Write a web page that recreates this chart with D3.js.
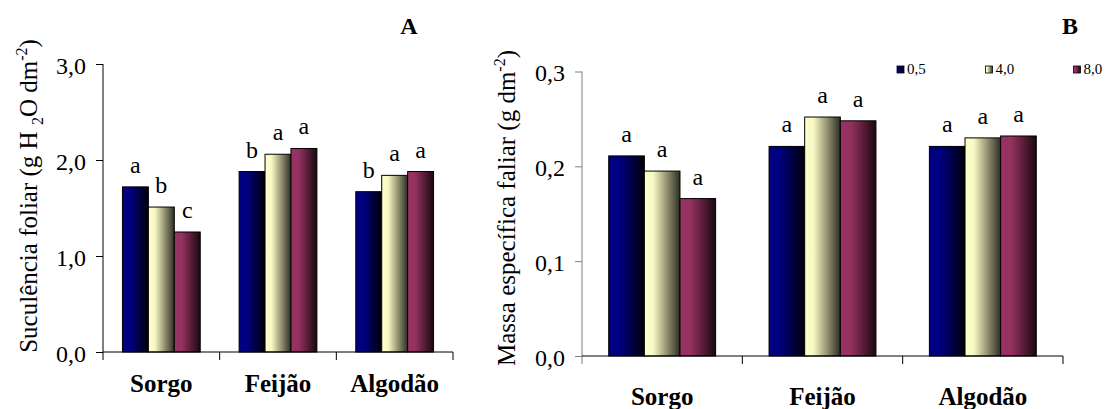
<!DOCTYPE html>
<html>
<head>
<meta charset="utf-8">
<script src="https://cdn.jsdelivr.net/npm/d3@7"></script>
<style>
  html, body { margin: 0; padding: 0; background: #fff; }
</style>
</head>
<body>
<svg id="chart" width="1110" height="409" font-family="'Liberation Serif', 'Times New Roman', serif"></svg>
<script>
// ---------- data ----------
const categories = ["Sorgo", "Feijão", "Algodão"];
const doses = ["0,5", "4,0", "8,0"];

// Panel A: Suculência foliar (g H2O dm-2)
const sucA_05 = [1.72, 1.88, 1.67];
const sucA_40 = [1.51, 2.06, 1.84];
const sucA_80 = [1.25, 2.12, 1.88];
const letA_05 = ["a", "b", "b"];
const letA_40 = ["b", "a", "a"];
const letA_80 = ["c", "a", "a"];
const ticksA = [0, 1, 2, 3];
const tickLabelsA = ["0,0", "1,0", "2,0", "3,0"];

// Panel B: Massa específica foliar (g dm-2)
const mefB_05 = [0.211, 0.221, 0.221];
const mefB_40 = [0.195, 0.252, 0.230];
const mefB_80 = [0.166, 0.248, 0.232];
const letB_05 = ["a", "a", "a"];
const letB_40 = ["a", "a", "a"];
const letB_80 = ["a", "a", "a"];
const ticksB = [0, 0.1, 0.2, 0.3];
const tickLabelsB = ["0,0", "0,1", "0,2", "0,3"];

// ---------- drawing ----------
const FONT = '"Liberation Serif", "Times New Roman", serif';
const svg = d3.select("#chart");
const defs = svg.append("defs");
const grads = [
  { id: "gBlue",   stops: [[0, "#000080"], [0.3, "#000080"], [1, "#000008"]] },
  { id: "gYellow", stops: [[0, "#ffffcc"], [0.25, "#f8f8c4"], [1, "#2e2e24"]] },
  { id: "gRed",    stops: [[0, "#993366"], [0.3, "#93315f"], [1, "#1a0810"]] }
];
grads.forEach(g => {
  const lg = defs.append("linearGradient").attr("id", g.id)
    .attr("x1", "0%").attr("x2", "100%").attr("y1", "0%").attr("y2", "0%");
  g.stops.forEach(s => lg.append("stop").attr("offset", s[0]).attr("stop-color", s[1]));
});
const fills = ["url(#gBlue)", "url(#gYellow)", "url(#gRed)"];

function txt(sel) { return sel.style("font-family", FONT).attr("fill", "#000"); }

function panel(opt) {
  const g = svg.append("g");
  const x = d3.scaleBand().domain(categories).range([opt.x0, opt.x1]).padding(0);
  const bw = x.bandwidth();
  const xi = d3.scaleBand().domain(doses).range([bw / 6, bw * 5 / 6]).padding(0);
  const y = d3.scaleLinear().domain(opt.domain).range([opt.yBase, opt.yTop]);

  // bars
  opt.series.forEach((vals, si) => {
    categories.forEach((c, ci) => {
      const bx = x(c) + xi(doses[si]);
      g.append("rect")
        .attr("x", bx).attr("y", y(vals[ci]))
        .attr("width", xi.bandwidth()).attr("height", y(0) - y(vals[ci]))
        .attr("fill", fills[si]).attr("stroke", "#000").attr("stroke-width", 1);
      txt(g.append("text"))
        .attr("x", bx + xi.bandwidth() / 2).attr("y", y(vals[ci]) - 14)
        .attr("text-anchor", "middle").style("font-size", "24px")
        .text(opt.letters[si][ci]);
    });
  });

  // y axis
  const yAxis = d3.axisLeft(y).tickValues(opt.ticks)
    .tickFormat((d, i) => opt.tickLabels[i]).tickSize(7).tickPadding(10);
  const ya = g.append("g").attr("transform", `translate(${opt.x0},0)`).call(yAxis);
  ya.attr("font-family", null).attr("font-size", null);
  ya.select(".domain").remove();
  ya.selectAll(".tick line").attr("stroke", opt.yColor);
  txt(ya.selectAll(".tick text")).style("font-size", "24px").attr("dy", "0.38em");
  g.append("line").attr("x1", opt.x0).attr("x2", opt.x0)
    .attr("y1", opt.yTop).attr("y2", opt.yBase + 8).attr("stroke", opt.yColor);

  // x axis
  g.append("line").attr("x1", opt.x0).attr("x2", opt.x1)
    .attr("y1", opt.yBase).attr("y2", opt.yBase).attr("stroke", "#000");
  categories.forEach(c => {
    const xe = x(c) + bw;
    g.append("line").attr("x1", xe).attr("x2", xe)
      .attr("y1", opt.yBase).attr("y2", opt.yBase + 8).attr("stroke", "#000");
    txt(g.append("text")).attr("x", x(c) + bw / 2).attr("y", opt.catY)
      .attr("text-anchor", "middle").style("font-size", "25px").style("font-weight", "bold")
      .text(c);
  });

  // y title
  const t = txt(g.append("text"))
    .attr("transform", `translate(${opt.titleX},${opt.titleY}) rotate(-90)`)
    .attr("text-anchor", "middle").style("font-size", "25px");
  opt.yTitle.forEach(p => {
    const s = t.append("tspan").text(p.t);
    if (p.sub) s.style("font-size", "16px").attr("dy", 6);
    if (p.sup) s.style("font-size", "16px").attr("dy", -10);
    if (p.back) s.attr("dy", p.back);
  });

  // panel letter
  txt(g.append("text")).attr("x", opt.letterX).attr("y", 34)
    .attr("text-anchor", "middle").style("font-size", "24px").style("font-weight", "bold")
    .text(opt.panelLetter);
}

panel({
  x0: 103, x1: 453, yBase: 352, yTop: 64, domain: [0, 3],
  series: [sucA_05, sucA_40, sucA_80], letters: [letA_05, letA_40, letA_80],
  ticks: ticksA, tickLabels: tickLabelsA, yColor: "#000", catY: 392,
  titleX: 37, titleY: 196,
  yTitle: [{ t: "Suculência foliar (g H " }, { t: "2", sub: true }, { t: "O dm", back: -6 },
           { t: "-2", sup: true }, { t: ")", back: 10 }],
  letterX: 409, panelLetter: "A"
});

panel({
  x0: 582, x1: 1063, yBase: 356, yTop: 71.5, domain: [0, 0.3],
  series: [mefB_05, mefB_40, mefB_80], letters: [letB_05, letB_40, letB_80],
  ticks: ticksB, tickLabels: tickLabelsB, yColor: "#808080", catY: 405,
  titleX: 515, titleY: 208,
  yTitle: [{ t: "Massa específica faliar (g dm" }, { t: "-2", sup: true }, { t: ")", back: 10 }],
  letterX: 1070, panelLetter: "B"
});

// legend
const legX = [897, 985.5, 1073.5];
const lg = svg.append("g");
doses.forEach((d, i) => {
  lg.append("rect").attr("x", legX[i]).attr("y", 66).attr("width", 7).attr("height", 7)
    .attr("fill", fills[i]).attr("stroke", "#000").attr("stroke-width", 0.8);
  txt(lg.append("text")).attr("x", legX[i] + 10).attr("y", 74).style("font-size", "15px").text(d);
});
</script>
</body>
</html>
